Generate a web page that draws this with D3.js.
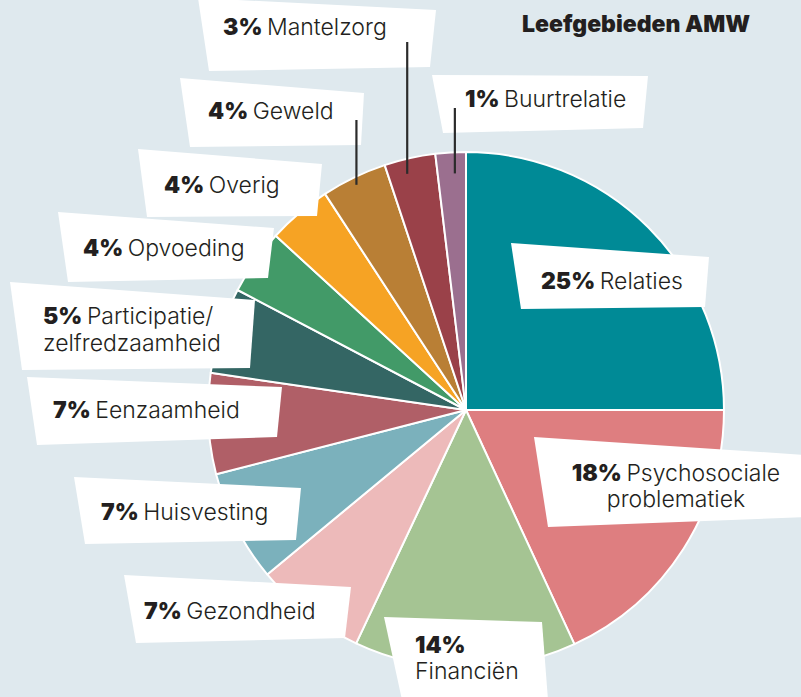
<!DOCTYPE html>
<html>
<head>
<meta charset="utf-8">
<script src="https://cdn.jsdelivr.net/npm/d3@7"></script>
<style>
  html, body { margin: 0; padding: 0; background: #dfe9ee; }
  svg { display: block; }
</style>
</head>
<body>
<div id="chart"></div>
<script>
// data (slice shares) and the printed labels
var categories = ['Relaties', 'Psychosociale problematiek', 'Financiën', 'Gezondheid', 'Huisvesting',
  'Eenzaamheid', 'Participatie/ zelfredzaamheid', 'Opvoeding', 'Overig', 'Geweld', 'Mantelzorg', 'Buurtrelatie'];
var shares = [25.0, 18.1, 13.9, 7.0, 7.0, 6.3, 5.4, 4.1, 4.0, 4.1, 3.2, 1.9];
var pctLabels = ['25%', '18%', '14%', '7%', '7%', '7%', '5%', '4%', '4%', '4%', '3%', '1%'];
var colors = ['#008a96', '#de7e80', '#a5c493', '#edbaba', '#7bb1bc', '#b05f67',
  '#346664', '#429a68', '#f6a324', '#b97f35', '#9a4149', '#9b6f8f'];

var width = 801, height = 697;
var cx = 466, cy = 410, radius = 258;

// label boxes are hand placed, like in the original
var labelLayout = [
  { box: [[511,243],[709,257],[705,307],[521,309]], lines: [[541,289]], anchor: 'start' },
  { box: [[534,437],[806,455],[806,517],[548,527]], lines: [[676,481],[676,507]], anchor: 'middle' },
  { box: [[384,617],[542,622],[548,700],[402,700]], lines: [[415,653],[415,679]], anchor: 'start', split: true },
  { box: [[124,575],[351,587],[345,638],[136,643]], lines: [[144,619]], anchor: 'start' },
  { box: [[74,477],[301,488],[296,540],[85,544]], lines: [[101,520]], anchor: 'start' },
  { box: [[27,377],[282,387],[277,437],[37,445]], lines: [[53,418]], anchor: 'start' },
  { box: [[10,282],[255,300],[250,368],[22,370]], lines: [[43,324],[43,351]], anchor: 'start' },
  { box: [[58,212],[274,228],[268,278],[68,282]], lines: [[83,256]], anchor: 'start' },
  { box: [[138,149],[322,164],[317,216],[147,217]], lines: [[164,193]], anchor: 'start' },
  { box: [[180,78],[364,93],[361,145],[190,147]], lines: [[208,119]], anchor: 'start', leader: { top: 120, r: 250, dx: -1 } },
  { box: [[198,-2],[436,10],[430,67],[209,71]], lines: [[223,35]], anchor: 'start', leader: { top: 42, r: 242, dx: -6 } },
  { box: [[432,75],[648,76],[643,128],[443,133]], lines: [[465,107]], anchor: 'start', leader: { top: 108, r: 237, dx: 3 } }
];

var fontFamily = "Inter, 'Noto Sans', sans-serif";

var svg = d3.select('#chart').append('svg')
  .attr('width', width)
  .attr('height', height)
  .style('background', '#dfe9ee');

var data = categories.map(function(c, i) {
  return { category: c, value: shares[i], pct: pctLabels[i], color: colors[i], layout: labelLayout[i] };
});

var pie = d3.pie()
  .value(function(d) { return d.value; })
  .sort(null);

var arc = d3.arc()
  .innerRadius(0)
  .outerRadius(radius);

var arcs = pie(data);

var g = svg.append('g')
  .attr('transform', 'translate(' + cx + ',' + cy + ')');

g.selectAll('path.slice')
  .data(arcs)
  .enter()
  .append('path')
  .attr('class', 'slice')
  .attr('d', arc)
  .style('fill', function(d) { return d.data.color; })
  .style('stroke', '#fff')
  .style('stroke-width', 2)
  .style('stroke-linejoin', 'round');

// white label boxes
svg.selectAll('path.box')
  .data(arcs)
  .enter()
  .append('path')
  .attr('class', 'box')
  .attr('d', function(d) { return 'M' + d.data.layout.box.join('L') + 'Z'; })
  .style('fill', '#fff');

// leader lines for the small slices at the top
function leaderX(d) {
  var a = (d.startAngle + d.endAngle) / 2;
  return cx + Math.sin(a) * d.data.layout.leader.r + d.data.layout.leader.dx;
}

svg.selectAll('line.leader')
  .data(arcs.filter(function(d) { return d.data.layout.leader; }))
  .enter()
  .append('line')
  .attr('class', 'leader')
  .attr('x1', leaderX)
  .attr('x2', leaderX)
  .attr('y1', function(d) { return d.data.layout.leader.top; })
  .attr('y2', function(d) {
    var a = (d.startAngle + d.endAngle) / 2;
    return cy - Math.cos(a) * d.data.layout.leader.r;
  })
  .style('stroke', '#2b2b2b')
  .style('stroke-width', 2.2);

// label texts
arcs.forEach(function(d) {
  var L = d.data.layout;
  var words = d.data.category.split(' ');
  var rows;
  if (L.split) {
    rows = [[d.data.pct, ''], ['', d.data.category]];
  } else if (L.lines.length == 2) {
    rows = [[d.data.pct, words[0]], ['', words.slice(1).join(' ')]];
  } else {
    rows = [[d.data.pct, d.data.category]];
  }
  rows.forEach(function(r, j) {
    var t = svg.append('text')
      .attr('x', L.lines[j][0])
      .attr('y', L.lines[j][1])
      .attr('text-anchor', L.anchor)
      .style('font-family', fontFamily)
      .style('font-size', '23px')
      .style('fill', '#231f20');
    if (r[0]) {
      t.append('tspan')
        .style('font-weight', 900)
        .text(r[0] + (r[1] ? ' ' : ''));
    }
    if (r[1]) {
      t.append('tspan')
        .style('font-weight', 300)
        .text(r[1]);
    }
  });
});

svg.append('text')
  .attr('class', 'title')
  .attr('x', 522)
  .attr('y', 32)
  .attr('text-anchor', 'start')
  .style('font-family', fontFamily)
  .style('font-size', '23px')
  .style('font-weight', 900)
  .style('fill', '#231f20')
  .text('Leefgebieden AMW');
</script>
</body>
</html>
